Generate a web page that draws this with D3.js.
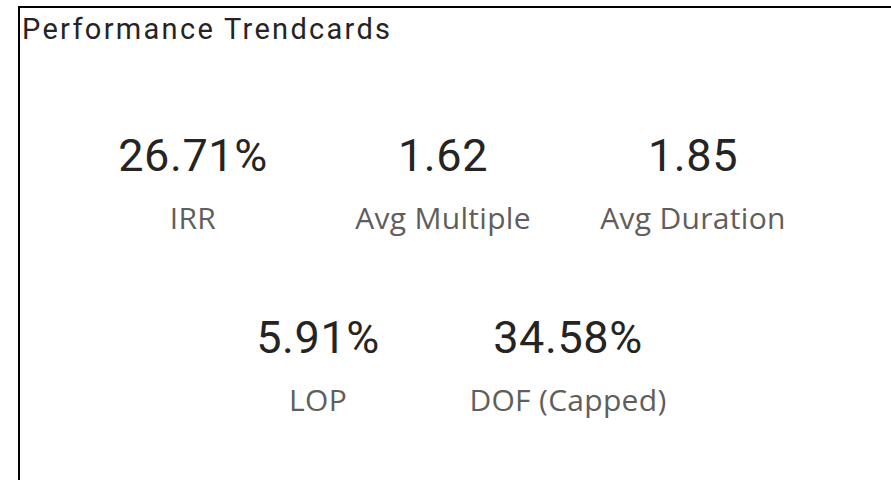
<!DOCTYPE html>
<html>
<head>
<meta charset="utf-8">
<script src="https://cdn.jsdelivr.net/npm/d3@7"></script>
<style>
  body { margin: 0; background: #fff; }
</style>
</head>
<body>
<div id="card"></div>
<script>
const title = "Performance Trendcards"
const cardLabels = ["IRR", "Avg Multiple", "Avg Duration", "LOP", "DOF (Capped)"]
const cardValues = [26.71, 1.62, 1.85, 5.91, 34.58]
const cardUnits = ["%", "", "", "%", "%"]
const cardRows = [0, 0, 0, 1, 1]

const width = 891, height = 480

const svg = d3.select("#card")
  .append("svg")
    .attr("width", width)
    .attr("height", height)

// frame: top and left edges only
svg.append("line")
  .attr("x1", 18).attr("x2", width)
  .attr("y1", 7).attr("y2", 7)
  .attr("stroke", "#000").attr("stroke-width", 2)
svg.append("line")
  .attr("x1", 19).attr("x2", 19)
  .attr("y1", 6).attr("y2", height)
  .attr("stroke", "#000").attr("stroke-width", 2)

svg.append("text")
  .attr("x", 22)
  .attr("y", 39)
  .attr("font-family", "Roboto, sans-serif")
  .attr("font-size", 29)
  .attr("letter-spacing", 2.3)
  .attr("fill", "#252423")
  .text(title)

const cards = cardLabels.map((label, i) => ({
  label: label,
  value: cardValues[i].toFixed(2) + cardUnits[i],
  row: cardRows[i]
}))

// row positions (value baseline)
const y = d3.scalePoint()
  .domain([0, 1])
  .range([171, 353])

// each row is its own band scale, 250px per card, centered
const rowScales = {}
d3.groups(cards, d => d.row).forEach(([row, items]) => {
  const n = items.length
  const cx = 443
  rowScales[row] = d3.scaleBand()
    .domain(items.map(d => d.label))
    .range([cx - n * 125, cx + n * 125])
})

const g = svg.selectAll("g.card")
  .data(cards)
  .join("g")
    .attr("class", "card")
    .attr("transform", d => {
      const x = rowScales[d.row]
      return `translate(${x(d.label) + x.bandwidth() / 2},${y(d.row)})`
    })

g.append("text")
  .attr("text-anchor", "middle")
  .attr("font-family", "Roboto, sans-serif")
  .attr("font-size", 45)
  .attr("letter-spacing", 0.6)
  .attr("fill", "#252423")
  .text(d => d.value)

g.append("text")
  .attr("text-anchor", "middle")
  .attr("y", 58)
  .attr("font-family", "'Open Sans', sans-serif")
  .attr("font-size", 30)
  .attr("letter-spacing", 0.3)
  .attr("fill", "#605E5C")
  .text(d => d.label)
</script>
</body>
</html>
